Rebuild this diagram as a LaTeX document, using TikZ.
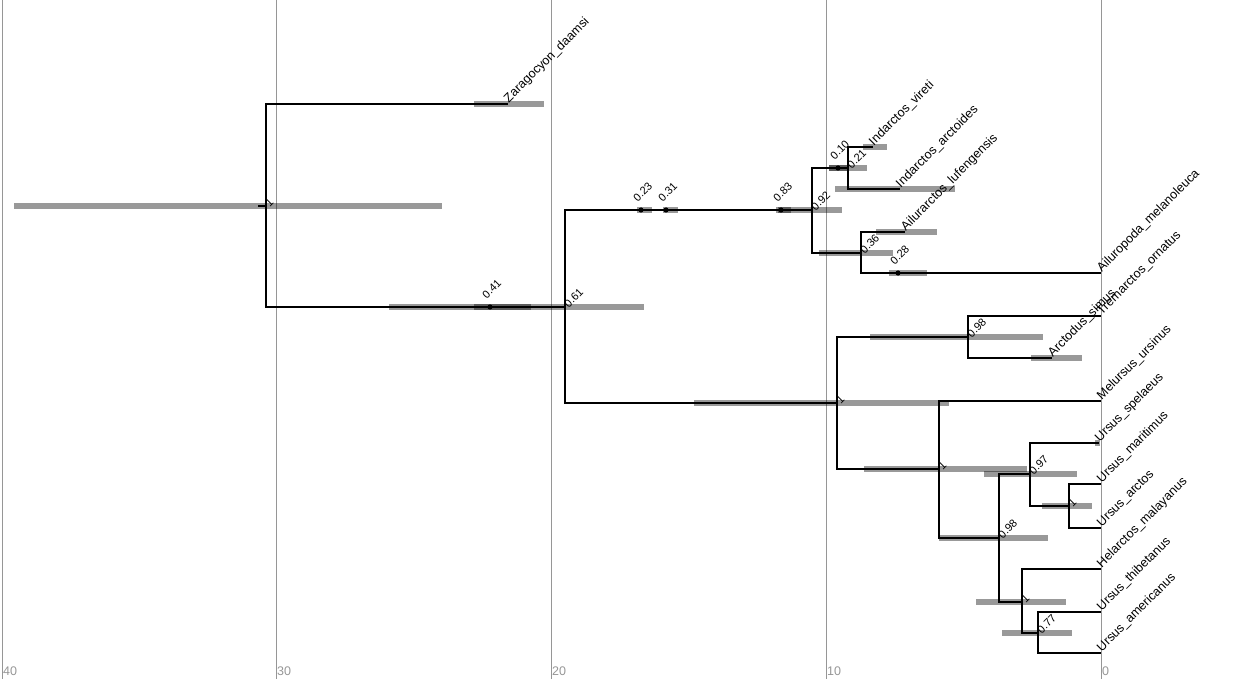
\documentclass[tikz,border=0pt]{standalone}
\usepackage{fontspec}
\setmainfont{Liberation Sans}
\usepackage{tikz}
\usetikzlibrary{positioning}
\usepackage{xcolor}
\definecolor{gridgrey}{RGB}{150,150,150}

\begin{document}
\begin{tikzpicture}[x=1pt, y=-1pt,
    branch/.style={line width=2pt},
    bar/.style={line width=5.5pt, opacity=0.4},
    gridline/.style={gridgrey, line width=0.8pt},
    ticklab/.style={anchor=base west, inner sep=1pt, text=gridgrey, font=\fontsize{12.5}{13}\selectfont},
    tip/.style={rotate=45, anchor=base west, inner sep=1pt, font=\fontsize{12.6}{13}\selectfont},
    supp/.style={rotate=45, anchor=base west, inner sep=1pt, font=\fontsize{11}{12}\selectfont},
    suppnode/.style={xshift=3pt, yshift=-2pt, supp},
    suppdot/.style={xshift=-4pt, yshift=7pt, supp}]
  \useasboundingbox (0,0) rectangle (1245,679);

  % Time axis
  \draw[gridline] (2,0) -- (2,679);
  \draw[gridline] (276,0) -- (276,679);
  \draw[gridline] (551,0) -- (551,679);
  \draw[gridline] (826,0) -- (826,679);
  \draw[gridline] (1101,0) -- (1101,679);
  \node[ticklab] (ax40) at (2,675) {40};
  \node[ticklab] (ax30) at (276,675) {30};
  \node[ticklab] (ax20) at (551,675) {20};
  \node[ticklab] (ax10) at (826,675) {10};
  \node[ticklab] (ax0) at (1101,675) {0};

  % Internal nodes and sampled ancestors
  \coordinate (stem) at (258,206);
  \coordinate (root) at (266,206);
  \coordinate (sa41) at (490,307);
  \coordinate (n61) at (565,307);
  \coordinate (sa23) at (641,210);
  \coordinate (sa31) at (666,210);
  \coordinate (sa83) at (781,210);
  \coordinate (n92) at (812,210);
  \coordinate (sa10) at (838,168);
  \coordinate (n21) at (848,168);
  \coordinate (n36) at (861,253);
  \coordinate (sa28) at (898,273);
  \coordinate (n1a) at (837,403);
  \coordinate (n98a) at (968,337);
  \coordinate (n1b) at (939,469);
  \coordinate (n98b) at (999,538);
  \coordinate (n97) at (1030,474);
  \coordinate (n1c) at (1069,506);
  \coordinate (n1d) at (1022,602);
  \coordinate (n77) at (1038,633);

  % Tips
  \coordinate (zara) at (508,104);
  \coordinate (vireti) at (873,147);
  \coordinate (arctoides) at (900,189);
  \coordinate (lufeng) at (905,232);
  \coordinate (melano) at (1101,273);
  \coordinate (ornatus) at (1101,316);
  \coordinate (simus) at (1052,358);
  \coordinate (melursus) at (1101,401);
  \coordinate (spelaeus) at (1099,443);
  \coordinate (maritimus) at (1101,484);
  \coordinate (arctos) at (1101,528);
  \coordinate (malayanus) at (1101,569);
  \coordinate (thibet) at (1101,612);
  \coordinate (americ) at (1101,653);

  % Age bars
  \draw[bar] (14,206) -- (442,206);
  \draw[bar] (474,104) -- (544,104);
  \draw[bar] (389,307) -- (644,307);
  \draw[bar] (474,307) -- (531,307);
  \draw[bar] (637,210) -- (652,210);
  \draw[bar] (663,210) -- (678,210);
  \draw[bar] (776,210) -- (791,210);
  \draw[bar] (778,210) -- (842,210);
  \draw[bar] (829,168) -- (847,168);
  \draw[bar] (829,168) -- (867,168);
  \draw[bar] (863,147) -- (887,147);
  \draw[bar] (835,189) -- (955,189);
  \draw[bar] (819,253) -- (893,253);
  \draw[bar] (876,232) -- (937,232);
  \draw[bar] (889,273) -- (927,273);
  \draw[bar] (694,403) -- (949,403);
  \draw[bar] (870,337) -- (1043,337);
  \draw[bar] (1031,358) -- (1082,358);
  \draw[bar] (864,469) -- (1027,469);
  \draw[bar] (984,474) -- (1077,474);
  \draw[bar] (1095,443) -- (1100,443);
  \draw[bar] (1042,506) -- (1092,506);
  \draw[bar] (939,538) -- (1048,538);
  \draw[bar] (976,602) -- (1066,602);
  \draw[bar] (1002,633) -- (1072,633);

  % Branches
  \draw[branch] (stem) -- (root);
  \draw[branch] (root) |- (zara);
  \draw[branch] (root) |- (sa41) -- (n61);
  \draw[branch] (n61) |- (sa23) -- (sa31) -- (sa83) -- (n92);
  \draw[branch] (n61) |- (n1a);
  \draw[branch] (n92) |- (sa10) -- (n21);
  \draw[branch] (n92) |- (n36);
  \draw[branch] (n21) |- (vireti);
  \draw[branch] (n21) |- (arctoides);
  \draw[branch] (n36) |- (lufeng);
  \draw[branch] (n36) |- (sa28) -- (melano);
  \draw[branch] (n1a) |- (n98a);
  \draw[branch] (n1a) |- (n1b);
  \draw[branch] (n98a) |- (ornatus);
  \draw[branch] (n98a) |- (simus);
  \draw[branch] (n1b) |- (melursus);
  \draw[branch] (n1b) |- (n98b);
  \draw[branch] (n98b) |- (n97);
  \draw[branch] (n98b) |- (n1d);
  \draw[branch] (n97) |- (spelaeus);
  \draw[branch] (n97) |- (n1c);
  \draw[branch] (n1c) |- (maritimus);
  \draw[branch] (n1c) |- (arctos);
  \draw[branch] (n1d) |- (malayanus);
  \draw[branch] (n1d) |- (n77);
  \draw[branch] (n77) |- (thibet);
  \draw[branch] (n77) |- (americ);

  % Sampled ancestor dots
  \fill (sa41) circle (2.6pt);
  \fill (sa23) circle (2.6pt);
  \fill (sa31) circle (2.6pt);
  \fill (sa83) circle (2.6pt);
  \fill (sa10) circle (2.6pt);
  \fill (sa28) circle (2.6pt);

  % Support values
  \node[suppnode] (lroot) at (root) {1};
  \node[suppdot] (l41) at (sa41) {0.41};
  \node[suppnode] (l61) at (n61) {0.61};
  \node[suppdot] (l23) at (sa23) {0.23};
  \node[suppdot] (l31) at (sa31) {0.31};
  \node[suppdot] (l83) at (sa83) {0.83};
  \node[suppnode] (l92) at (n92) {0.92};
  \node[suppdot] (l10) at (sa10) {0.10};
  \node[suppnode] (l21) at (n21) {0.21};
  \node[suppnode] (l36) at (n36) {0.36};
  \node[suppdot] (l28) at (sa28) {0.28};
  \node[suppnode] (l1a) at (n1a) {1};
  \node[suppnode] (l98a) at (n98a) {0.98};
  \node[suppnode] (l1b) at (n1b) {1};
  \node[suppnode] (l97) at (n97) {0.97};
  \node[suppnode] (l1c) at (n1c) {1};
  \node[suppnode] (l98b) at (n98b) {0.98};
  \node[suppnode] (l1d) at (n1d) {1};
  \node[suppnode] (l77) at (n77) {0.77};

  % Tip labels
  \node[tip] (tzara) at (zara) {Zaragocyon\_daamsi};
  \node[tip] (tvireti) at (vireti) {Indarctos\_vireti};
  \node[tip] (tarctoides) at (arctoides) {Indarctos\_arctoides};
  \node[tip] (tlufeng) at (lufeng) {Ailurarctos\_lufengensis};
  \node[tip] (tmelano) at (melano) {Ailuropoda\_melanoleuca};
  \node[tip] (tornatus) at (ornatus) {Tremarctos\_ornatus};
  \node[tip] (tsimus) at (simus) {Arctodus\_simus};
  \node[tip] (tmelursus) at (melursus) {Melursus\_ursinus};
  \node[tip] (tspelaeus) at (spelaeus) {Ursus\_spelaeus};
  \node[tip] (tmaritimus) at (maritimus) {Ursus\_maritimus};
  \node[tip] (tarctos) at (arctos) {Ursus\_arctos};
  \node[tip] (tmalayanus) at (malayanus) {Helarctos\_malayanus};
  \node[tip] (tthibet) at (thibet) {Ursus\_thibetanus};
  \node[tip] (tameric) at (americ) {Ursus\_americanus};
\end{tikzpicture}
\end{document}
